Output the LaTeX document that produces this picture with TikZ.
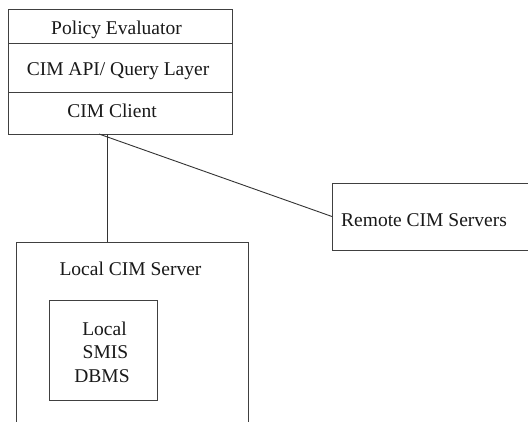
\documentclass[tikz,border=0pt]{standalone}
\usepackage{fontspec}
\setmainfont{Liberation Serif}
\begin{document}
\begin{tikzpicture}[x=1pt,y=-1pt,
  box/.style={draw=black!75,line width=0.9pt,inner sep=0pt,outer sep=0pt,anchor=north west},
  lbl/.style={font=\fontsize{19.5}{25}\selectfont,inner sep=0pt,anchor=base,text=black!90},
  wire/.style={draw=black!80,line width=0.9pt}]
\useasboundingbox (0,0) rectangle (528,421);
\fill[white] (0,0) rectangle (528,421);
\clip (0,0) rectangle (528,421);
% stacked client-side layers
\node[box,minimum width=224pt,minimum height=34pt] (pe) at (8,9) {};
\node[box,minimum width=224pt,minimum height=49pt] (api) at (8,43) {};
\node[box,minimum width=224pt,minimum height=42pt] (client) at (8,92) {};
\node[lbl] (tpe) at (116.5,34.5) {Policy Evaluator};
\node[lbl] (tapi) at (118,75) {CIM API/ Query Layer};
\node[lbl] (tclient) at (112,117) {CIM Client};
% servers (boxes run off the page edge)
\node[box,minimum width=232pt,minimum height=200pt] (localsrv) at (16,242) {};
\node[lbl] (tlocal) at (130.5,275) {Local CIM Server};
\node[box,minimum width=108pt,minimum height=100pt] (dbms) at (49,300) {};
\node[lbl] (t1) at (104.5,335) {Local};
\node[lbl] (t2) at (105.5,358.5) {SMIS};
\node[lbl] (t3) at (102,382) {DBMS};
\node[box,minimum width=220pt,minimum height=67pt] (remote) at (332,183) {};
\node[lbl,anchor=base west] (tremote) at (341,226) {Remote CIM Servers};
% connectors
\draw[wire] ([xshift=99pt]client.south west) -- ([xshift=91pt]localsrv.north west);
\draw[wire] ([xshift=91pt]client.south west) -- (remote.west);
\end{tikzpicture}
\end{document}
